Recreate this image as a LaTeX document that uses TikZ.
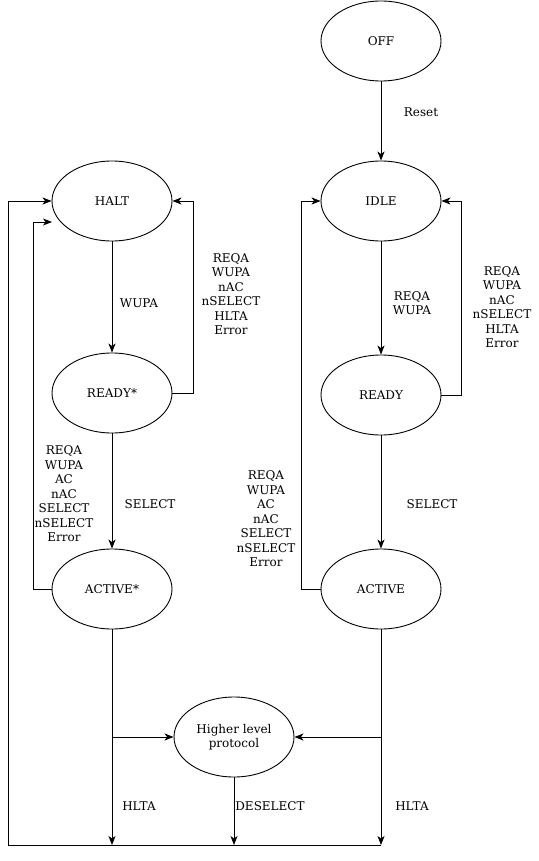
\documentclass[tikz,border=0pt]{standalone}
\usepackage{fontspec}
\setmainfont{DejaVu Serif}
\usetikzlibrary{arrows.meta,shapes.geometric}
\tikzset{
  state/.style={ellipse,draw,line width=0.9pt,minimum width=120pt,minimum height=80pt,inner sep=0pt,align=center,font=\fontsize{12}{14.5}\selectfont},
  conn/.style={line width=0.9pt,-{Stealth[length=9pt,width=7pt,inset=2.5pt]}},
  plain/.style={line width=0.9pt},
  lbl/.style={align=center,font=\fontsize{12}{14.5}\selectfont,inner sep=0pt}
}
\begin{document}
\begin{tikzpicture}[x=1pt,y=-1pt]
\useasboundingbox (0,0) rectangle (538,861);
\node[state] (off) at (381,41) {OFF};
\node[state] (idle) at (381,201) {IDLE};
\node[state] (halt) at (112,201) {HALT};
\node[state] (readys) at (112,393) {READY*};
\node[state] (ready) at (381,395) {READY};
\node[state] (actives) at (112,589) {ACTIVE*};
\node[state] (active) at (381,589) {ACTIVE};
\node[state] (hlp) at (234,737) {Higher level\\protocol};

% coordinates
\coordinate (bl) at (8,845);
\coordinate (tl) at (8,201);
\coordinate (b1) at (112,845);
\coordinate (b2) at (234,845);
\coordinate (b3) at (381,845);
\coordinate (h1) at (112,737);
\coordinate (h3) at (381,737);

\draw[conn] (off) -- (idle);
\draw[conn] (halt) -- (readys);
\draw[conn] (readys) -- (actives);
\draw[conn] (idle) -- (ready);
\draw[conn] (ready) -- (active);

\draw[conn] (readys.east) -- (193,393) |- (halt.east);
\draw[conn] (ready.east) -- (461,395) |- (idle.east);
\draw[conn] (active.west) -- (301,589) |- (idle.west);
\draw[conn] (actives.west) -- (33,589) |- (52,222);

\draw[conn] (actives.south) -- (b1);
\draw[conn] (hlp.south) -- (b2);
\draw[conn] (active.south) -- (b3);
\draw[conn] (h1) -- (hlp.west);
\draw[conn] (h3) -- (hlp.east);
\draw[plain] (b3) -- (bl) -- (tl);
\draw[conn] (tl) -- (halt.west);

\node[lbl] (l1) at (421,112) {Reset};
\node[lbl] (l2) at (139,303) {WUPA};
\node[lbl] (l3) at (231,294) {REQA\\WUPA\\nAC\\nSELECT\\HLTA\\Error};
\node[lbl] (l4) at (150,504) {SELECT};
\node[lbl] (l5) at (64,494) {REQA\\WUPA\\AC\\nAC\\SELECT\\nSELECT\\Error};
\node[lbl] (l6) at (412,303) {REQA\\WUPA};
\node[lbl] (l7) at (502,307) {REQA\\WUPA\\nAC\\nSELECT\\HLTA\\Error};
\node[lbl] (l8) at (432,504) {SELECT};
\node[lbl] (l9) at (266,519) {REQA\\WUPA\\AC\\nAC\\SELECT\\nSELECT\\Error};
\node[lbl] (l10) at (139,806) {HLTA};
\node[lbl] (l11) at (270,806) {DESELECT};
\node[lbl] (l12) at (412,806) {HLTA};
\end{tikzpicture}
\end{document}
